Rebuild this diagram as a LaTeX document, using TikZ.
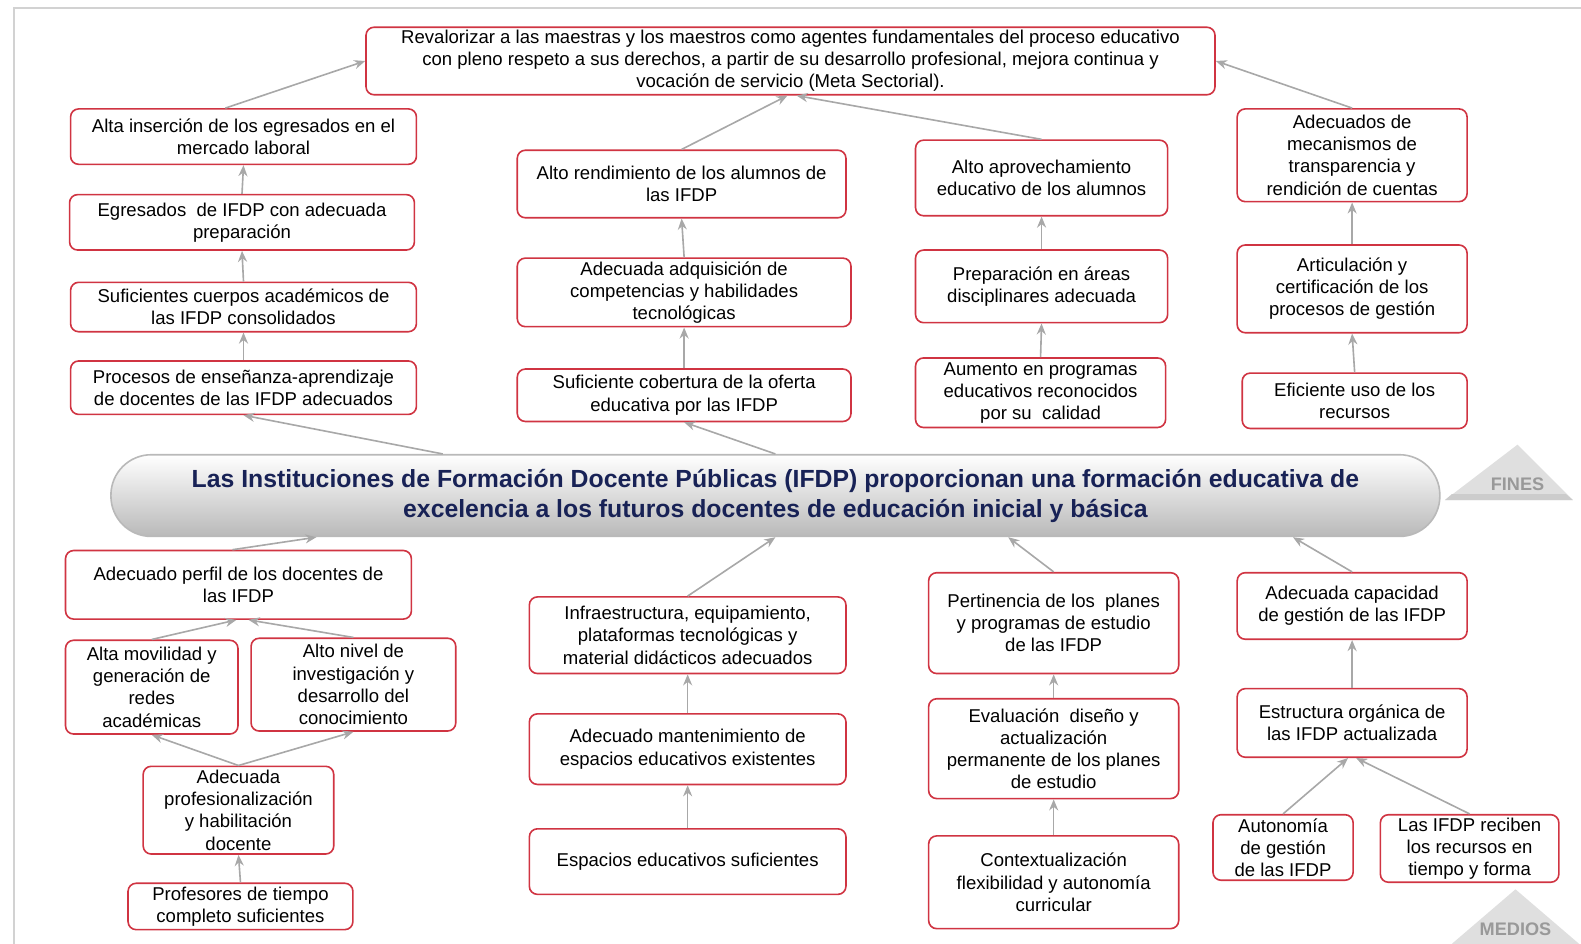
\documentclass[tikz,border=0pt]{standalone}
\usepackage{fontspec}
\setmainfont{Liberation Sans}
\usetikzlibrary{arrows.meta,calc}
\definecolor{boxred}{RGB}{208,52,66}
\definecolor{linkgray}{RGB}{168,168,168}
\definecolor{navy}{RGB}{24,34,86}
\begin{document}
\begin{tikzpicture}[
  x=0.5pt, y=-0.5pt,
  goal/.style={draw=boxred, line width=0.8pt, rounded corners=4pt, fill=white,
    align=center, inner sep=1pt, font=\fontsize{9.2}{11}\selectfont},
  wh/.style 2 args={minimum width=#1pt, minimum height=#2pt},
  link/.style={draw=linkgray, line width=0.8pt, -{Stealth[length=5.5pt,width=4.5pt]}},
  tag/.style={font=\fontsize{9}{10}\bfseries\selectfont, text=gray!80}
]
\useasboundingbox (0,0) rectangle (1568,936);
\draw[gray!35, line width=1.2pt] (14,936) -- (14,8) -- (1568,8);

\node[goal, wh={421}{33.5}] (T) at (784,60.5) {Revalorizar a las maestras y los maestros como agentes fundamentales del proceso educativo\\con pleno respeto a sus derechos, a partir de su desarrollo profesional, mejora continua y\\vocación de servicio (Meta Sectorial).};

\node[goal, wh={171.5}{27.5}] (A1) at (241.5,135.5) {Alta inserción de los egresados en el\\mercado laboral};
\node[goal, wh={171}{27.5}] (A2) at (240,220.5) {Egresados~ de IFDP con adecuada\\preparación};
\node[goal, wh={171.5}{24.5}] (A3) at (241.5,304.5) {Suficientes cuerpos académicos de\\las IFDP consolidados};
\node[goal, wh={171.5}{26.5}] (A4) at (241.5,384.5) {Procesos de enseñanza-aprendizaje\\de docentes de las IFDP adecuados};

\node[goal, wh={163}{33.5}] (B1) at (676,182.5) {Alto rendimiento de los alumnos de\\las IFDP};
\node[goal, wh={165.5}{34}] (B2) at (678.5,290) {Adecuada adquisición de\\competencias y habilidades\\tecnológicas};
\node[goal, wh={165.5}{26}] (B3) at (678.5,392) {Suficiente cobertura de la oferta\\educativa por las IFDP};

\node[goal, wh={125}{37.5}] (C1) at (1033,176.5) {Alto aprovechamiento\\educativo de los alumnos};
\node[goal, wh={125}{36}] (C2) at (1033,284) {Preparación en áreas\\disciplinares adecuada};
\node[goal, wh={124}{34.5}] (C3) at (1032,389.5) {Aumento en programas\\educativos reconocidos\\por su~ calidad};

\node[goal, wh={114}{46}] (D1) at (1341,154) {Adecuados de\\mecanismos de\\transparencia y\\rendición de cuentas};
\node[goal, wh={114}{43.5}] (D2) at (1341,286.5) {Articulación y\\certificación de los\\procesos de gestión};
\node[goal, wh={111.5}{27.5}] (D3) at (1343.5,397.5) {Eficiente uso de los\\recursos};

\node[draw=gray!55, line width=0.8pt, rounded corners=20pt, top color=white, bottom color=gray!55,
  wh={659}{40.5}, align=center, text=navy, font=\fontsize{12.3}{14.8}\bfseries\selectfont]
  (Ban) at (769,491.5) {Las Instituciones de Formación Docente Públicas (IFDP) proporcionan una formación educativa de\\excelencia a los futuros docentes de educación inicial y básica};

\fill[gray!25] (1433,496) -- (1505,441) -- (1560,496) -- cycle;
\fill[gray!40] (1440,490) -- (1553,490) -- (1560,496) -- (1433,496) -- cycle;
\node[tag] (fines) at (1505,480) {FINES};
\fill[gray!25] (1440,936) -- (1503,882) -- (1566,936) -- cycle;
\node[tag] (medios) at (1503,922) {MEDIOS};

\node[goal, wh={171.5}{34}] (E1) at (236.5,580) {Adecuado perfil de los docentes de\\las IFDP};
\node[goal, wh={85.5}{46.5}] (E2) at (150.5,681.5) {Alta movilidad y\\generación de\\redes\\académicas};
\node[goal, wh={101.5}{46}] (E3) at (350.5,679) {Alto nivel de\\investigación y\\desarrollo del\\conocimiento};
\node[goal, wh={94.5}{43.5}] (E4) at (236.5,803.5) {Adecuada\\profesionalización\\y habilitación\\docente};
\node[goal, wh={111.5}{23}] (E5) at (238.5,899) {Profesores de tiempo\\completo suficientes};

\node[goal, wh={157}{38}] (F1) at (682,630) {Infraestructura, equipamiento,\\plataformas tecnológicas y\\material didácticos adecuados};
\node[goal, wh={157}{35}] (F2) at (682,743) {Adecuado mantenimiento de\\espacios educativos existentes};
\node[goal, wh={157}{32.5}] (F3) at (682,854.5) {Espacios educativos suficientes};

\node[goal, wh={124}{50}] (G1) at (1045,618) {Pertinencia de los~ planes\\y programas de estudio\\de las IFDP};
\node[goal, wh={124}{49.5}] (G2) at (1045,742.5) {Evaluación~ diseño y\\actualización\\permanente de los planes\\de estudio};
\node[goal, wh={124}{46}] (G3) at (1045,875) {Contextualización\\flexibilidad y autonomía\\curricular};

\node[goal, wh={114}{33}] (H1) at (1341,601) {Adecuada capacidad\\de gestión de las IFDP};
\node[goal, wh={114}{34}] (H2) at (1341,717) {Estructura orgánica de\\las IFDP actualizada};
\node[goal, wh={69.5}{32.5}] (H3) at (1272.5,840.5) {Autonomía\\de gestión\\de las IFDP};
\node[goal, wh={88.5}{33.5}] (H4) at (1457.5,841.5) {Las IFDP reciben\\los recursos en\\tiempo y forma};

\draw[link] ([xshift=-9pt]A1.north) -- (T.west);
\draw[link] (A2.north) -- (A1.south);
\draw[link] (A3.north) -- (A2.south);
\draw[link] (A4.north) -- (A3.south);
\draw[link] ($(Ban.north west)!0.25!(Ban.north east)$) -- (A4.south);
\draw[link] (B1.north) -- ([xshift=-1.5pt]T.south);
\draw[link] (C1.north) -- ([xshift=3pt]T.south);
\draw[link] (D1.north) -- (T.east);
\draw[link] (B2.north) -- (B1.south);
\draw[link] (B3.north) -- (B2.south);
\draw[link] (Ban.north) -- (B3.south);
\draw[link] (C2.north) -- (C1.south);
\draw[link] (C3.north) -- (C2.south);
\draw[link] (D2.north) -- (D1.south);
\draw[link] (D3.north) -- (D2.south);

\draw[link] ([xshift=-3pt]E1.north) -- ($(Ban.south west)!0.155!(Ban.south east)$);
\draw[link] (E2.north) -- ([xshift=-1pt]E1.south);
\draw[link] (E3.north) -- ([xshift=5pt]E1.south);
\draw[link] (E4.north) -- (E2.south);
\draw[link] (E4.north) -- (E3.south);
\draw[link] (E5.north) -- (E4.south);
\draw[link] (F1.north) -- (Ban.south);
\draw[link] (F2.north) -- (F1.south);
\draw[link] (F3.north) -- (F2.south);
\draw[link] (G1.north) -- ($(Ban.south west)!0.675!(Ban.south east)$);
\draw[link] (G2.north) -- (G1.south);
\draw[link] (G3.north) -- (G2.south);
\draw[link] (H1.north) -- ($(Ban.south west)!0.889!(Ban.south east)$);
\draw[link] (H2.north) -- (H1.south);
\draw[link] (H3.north) -- ([xshift=-2pt]H2.south);
\draw[link] (H4.north) -- ([xshift=2pt]H2.south);
\end{tikzpicture}
\end{document}
